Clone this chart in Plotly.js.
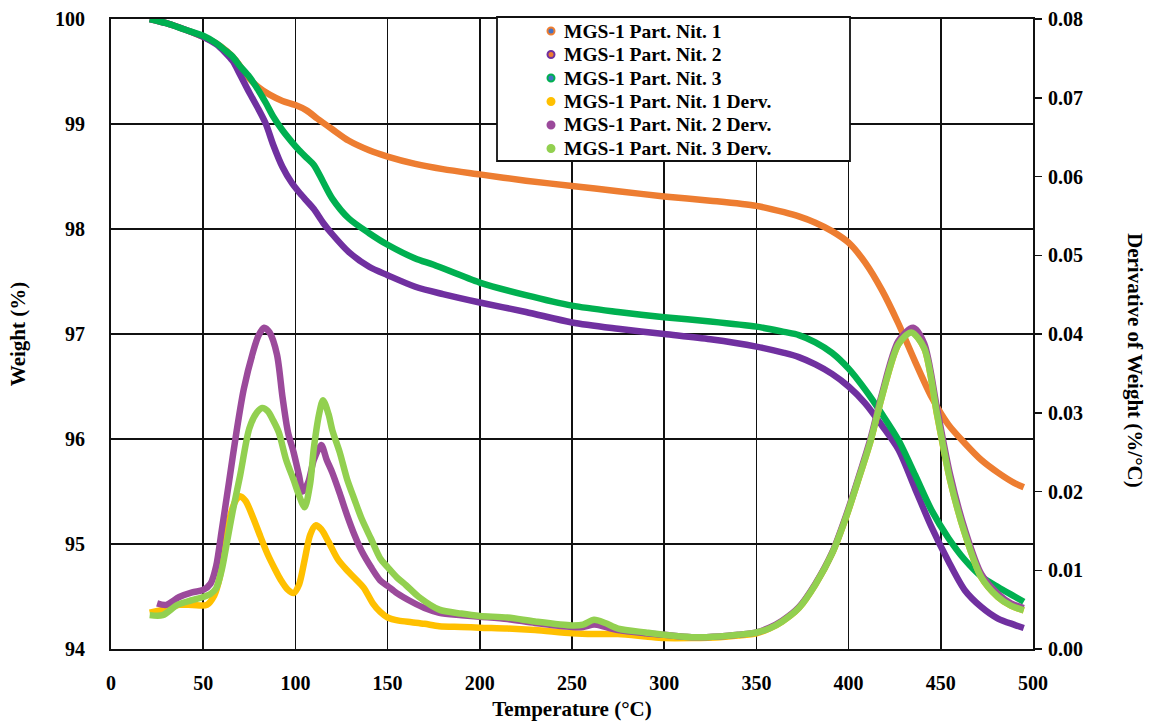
<!DOCTYPE html>
<html>
<head>
<meta charset="utf-8">
<script src="https://cdn.plot.ly/plotly-3.0.1.min.js"></script>
<style>html,body{margin:0;padding:0;background:#fff;}#chart{width:1154px;height:725px;}</style>
</head>
<body>
<div id="chart"></div>
<script>
// ---- Data ----
const seriesNames = ["MGS-1 Part. Nit. 1", "MGS-1 Part. Nit. 2", "MGS-1 Part. Nit. 3",
  "MGS-1 Part. Nit. 1 Derv.", "MGS-1 Part. Nit. 2 Derv.", "MGS-1 Part. Nit. 3 Derv."];

const tempW1 = [21,30,40,50,57,63,68,74,80,86,93,100,106,112,120,129,140,150,165,180,200,225,250,275,300,325,350,365,373,382,391,400,409,418,427,436,445,454,463,472,481,490,495];
const weight1 = [100,99.96,99.9,99.83,99.77,99.69,99.6,99.45,99.35,99.28,99.22,99.18,99.13,99.05,98.95,98.84,98.75,98.69,98.62,98.57,98.52,98.46,98.41,98.36,98.31,98.27,98.22,98.16,98.12,98.06,97.98,97.87,97.68,97.42,97.10,96.74,96.40,96.14,95.96,95.80,95.68,95.58,95.54];

const tempW2 = [21,30,40,50,57,62,66,70,75,80,84,88,93,98,102,106,110,115,120,129,140,150,165,180,200,225,250,275,300,325,350,365,373,382,391,400,409,418,427,436,445,454,463,472,481,490,495];
const weight2 = [100,99.96,99.9,99.83,99.76,99.68,99.6,99.47,99.3,99.14,99.0,98.8,98.59,98.44,98.35,98.27,98.19,98.06,97.95,97.78,97.64,97.56,97.45,97.38,97.30,97.21,97.11,97.05,97.0,96.95,96.88,96.82,96.78,96.71,96.62,96.5,96.34,96.13,95.9,95.53,95.16,94.84,94.56,94.40,94.29,94.23,94.20];

const tempW3 = [21,30,40,50,57,62,66,70,75,80,84,88,93,98,102,106,110,115,120,129,140,150,165,175,200,225,250,275,300,325,350,365,373,382,391,400,409,418,427,436,445,454,463,472,481,490,495];
const weight3 = [100,99.96,99.9,99.84,99.77,99.7,99.64,99.55,99.45,99.32,99.2,99.07,98.94,98.83,98.75,98.68,98.61,98.45,98.29,98.10,97.96,97.85,97.72,97.66,97.49,97.37,97.27,97.21,97.16,97.12,97.07,97.02,96.99,96.92,96.82,96.67,96.47,96.24,95.99,95.66,95.32,95.06,94.85,94.69,94.59,94.5,94.45];

const tempD1 = [21,30,37,44,52,56,59,62,65,68,70,73,77,81,85,89,92,96,99,102,105,108,111,114,118,123,128,133,137,142,146,150,156,163,170,178,190,200,215,230,250,262,275,290,300,315,330,340,350,357,364,373,382,391,399,405,412,418,427,434,441,448,455,463,472,481,488,495];
const deriv1 = [0.0046,0.0051,0.0056,0.0056,0.0056,0.0068,0.0091,0.0135,0.0172,0.0190,0.0194,0.0188,0.0167,0.0143,0.0120,0.0101,0.0088,0.0075,0.0071,0.0082,0.0113,0.0145,0.0157,0.0152,0.0136,0.0114,0.0100,0.0088,0.0078,0.0058,0.0047,0.0040,0.0036,0.0034,0.0032,0.0029,0.0028,0.0027,0.0026,0.0024,0.0020,0.0019,0.0019,0.0016,0.0014,0.0014,0.0015,0.0017,0.0020,0.0026,0.0035,0.0052,0.0082,0.0121,0.0170,0.0213,0.0265,0.0320,0.0387,0.0403,0.0382,0.0297,0.0215,0.0147,0.0091,0.0066,0.0055,0.0049];

const tempD2 = [25,30,37,44,50,54,57,60,64,68,72,77,80,83,86,90,93,96,99,102,104,107,110,114,117,120,124,128,132,136,141,146,150,155,163,170,178,190,200,215,230,250,256,262,268,275,290,300,315,330,340,350,357,364,373,382,391,399,405,412,418,427,435,441,448,455,463,472,481,488,495];
const deriv2 = [0.0058,0.0056,0.0066,0.0072,0.0075,0.0083,0.0105,0.0150,0.0212,0.0275,0.0330,0.0377,0.0398,0.0408,0.0402,0.0374,0.0320,0.0275,0.0250,0.0220,0.0200,0.0212,0.0240,0.0259,0.0240,0.0224,0.0198,0.0170,0.0145,0.0124,0.0104,0.0087,0.0080,0.0071,0.0060,0.0052,0.0046,0.0043,0.0041,0.0038,0.0033,0.0028,0.0028,0.0031,0.0028,0.0024,0.0020,0.0018,0.0015,0.0016,0.0018,0.0021,0.0027,0.0036,0.0053,0.0083,0.0122,0.0172,0.0215,0.0268,0.0323,0.0391,0.0408,0.0388,0.0305,0.0222,0.0152,0.0095,0.0070,0.0058,0.0052];

const tempD3 = [21,28,36,44,50,54,57,60,63,66,70,75,79,82,85,88,91,95,99,102,105,108,110,113,115,118,120,124,128,132,136,141,146,150,155,160,167,178,190,200,215,230,250,256,262,268,275,290,300,315,330,340,350,357,364,373,382,391,399,405,412,418,427,434,441,448,455,463,472,481,488,495];
const deriv3 = [0.0043,0.0043,0.0056,0.0062,0.0066,0.0070,0.0077,0.0100,0.0137,0.0175,0.0220,0.0280,0.0300,0.0306,0.0302,0.0290,0.0275,0.0240,0.0215,0.0195,0.0180,0.0210,0.0255,0.0300,0.0316,0.0298,0.0278,0.0250,0.0216,0.0190,0.0165,0.0140,0.0115,0.0104,0.0091,0.0081,0.0066,0.0050,0.0045,0.0042,0.0040,0.0035,0.0030,0.0031,0.0037,0.0033,0.0026,0.0021,0.0018,0.0015,0.0016,0.0018,0.0021,0.0026,0.0035,0.0052,0.0082,0.0121,0.0170,0.0213,0.0265,0.0320,0.0387,0.0402,0.0382,0.0298,0.0215,0.0147,0.0091,0.0066,0.0055,0.0049];

const xTicks = [0,50,100,150,200,250,300,350,400,450,500];
const yTicks = [94,95,96,97,98,99,100];
const y2Ticks = [0,0.01,0.02,0.03,0.04,0.05,0.06,0.07,0.08];

// ---- Styles ----
const colors = ["#ED7D31", "#7030A0", "#00B050", "#FFC000", "#9B4A9B", "#92D050"];
const innerColors = ["#4472C4", "#ED7D31", "#4472C4", "#FFC000", "#9B4A9B", "#92D050"];
const LW = 6.5;
const FONT = "Liberation Serif, Times New Roman, serif";

// plot area in pixels (for placing the legend box)
const M = {l: 111, r: 121, t: 19, b: 76};
const PW = 1154 - M.l - M.r, PH = 725 - M.t - M.b;
const px2x = p => (p - M.l) / PW;
const py2y = p => (725 - M.b - p) / PH;

function line(x, y, i, axis) {
  return {x: x, y: y, yaxis: axis, type: "scatter", mode: "lines",
    line: {color: colors[i], width: LW, shape: "spline", smoothing: 0.8},
    name: seriesNames[i], showlegend: false, hoverinfo: "x+y"};
}

const data = [
  line(tempW1, weight1, 0, "y"),
  line(tempW2, weight2, 1, "y"),
  line(tempW3, weight3, 2, "y"),
  line(tempD1, deriv1, 3, "y2"),
  line(tempD2, deriv2, 4, "y2"),
  line(tempD3, deriv3, 5, "y2"),
];

const tickFont = {family: FONT, size: 20, color: "#000", weight: "bold"};
const titleFont = {family: FONT, size: 21, color: "#000", weight: "bold"};

// legend drawn as a boxed list (text + circle markers)
const legendRowY = [31, 54.5, 78, 101.5, 125, 148.5];
const legendShapes = [{
  type: "rect", xref: "paper", yref: "paper",
  x0: px2x(497), x1: px2x(850), y0: py2y(161), y1: py2y(17),
  fillcolor: "#fff", line: {color: "#111", width: 1.8}, layer: "above"
}];
const legendAnn = [];
seriesNames.forEach((nm, i) => {
  const yy = py2y(legendRowY[i]);
  legendShapes.push({
    type: "circle", xref: "paper", yref: "paper", layer: "above",
    xsizemode: "pixel", ysizemode: "pixel", xanchor: px2x(551), yanchor: yy,
    x0: -3.5, x1: 3.5, y0: -3.5, y1: 3.5,
    fillcolor: innerColors[i], line: {color: colors[i], width: 2}
  });
  legendAnn.push({
    text: nm, xref: "paper", yref: "paper", x: px2x(562), y: yy,
    xanchor: "left", yanchor: "middle", showarrow: false,
    font: {family: FONT, size: 19.5, color: "#000", weight: "bold"}
  });
});

const layout = {
  width: 1154, height: 725,
  margin: {l: M.l, r: M.r, t: M.t, b: M.b, pad: 0},
  paper_bgcolor: "#fff", plot_bgcolor: "#fff",
  showlegend: false,
  font: {family: FONT, color: "#000"},
  xaxis: {
    range: [0, 500], tickvals: xTicks, ticktext: xTicks.map(String),
    showgrid: true, gridcolor: "#111", gridwidth: 1.5,
    showline: true, linecolor: "#111", linewidth: 2, mirror: true,
    ticks: "", ticklabelstandoff: 15, zeroline: false,
    tickfont: tickFont,
    title: {text: "Temperature (°C)", font: titleFont, standoff: 8},
    automargin: false
  },
  yaxis: {
    range: [94, 100], tickvals: yTicks, ticktext: yTicks.map(String),
    showgrid: true, gridcolor: "#111", gridwidth: 1.5,
    showline: true, linecolor: "#111", linewidth: 2,
    ticks: "", ticklabelstandoff: 20, zeroline: false,
    tickfont: tickFont,
    title: {text: "Weight (%)", font: titleFont, standoff: 24},
    automargin: false
  },
  yaxis2: {
    overlaying: "y", side: "right",
    range: [0, 0.08], tickvals: y2Ticks, ticktext: y2Ticks.map(v => v.toFixed(2)),
    showgrid: false, zeroline: false,
    showline: true, linecolor: "#111", linewidth: 2,
    ticks: "outside", ticklen: 7, tickwidth: 1.5, tickcolor: "#111",
    ticklabelstandoff: 2,
    tickfont: tickFont, automargin: false
  },
  shapes: legendShapes,
  annotations: legendAnn.concat([{
    text: "Derivative of Weight (%/°C)", textangle: 90,
    xref: "paper", yref: "paper", x: px2x(1135), y: py2y(360), xanchor: "center", yanchor: "middle",
    showarrow: false, font: titleFont
  }])
};

Plotly.newPlot("chart", data, layout, {displayModeBar: false, staticPlot: true});
</script>
</body>
</html>
